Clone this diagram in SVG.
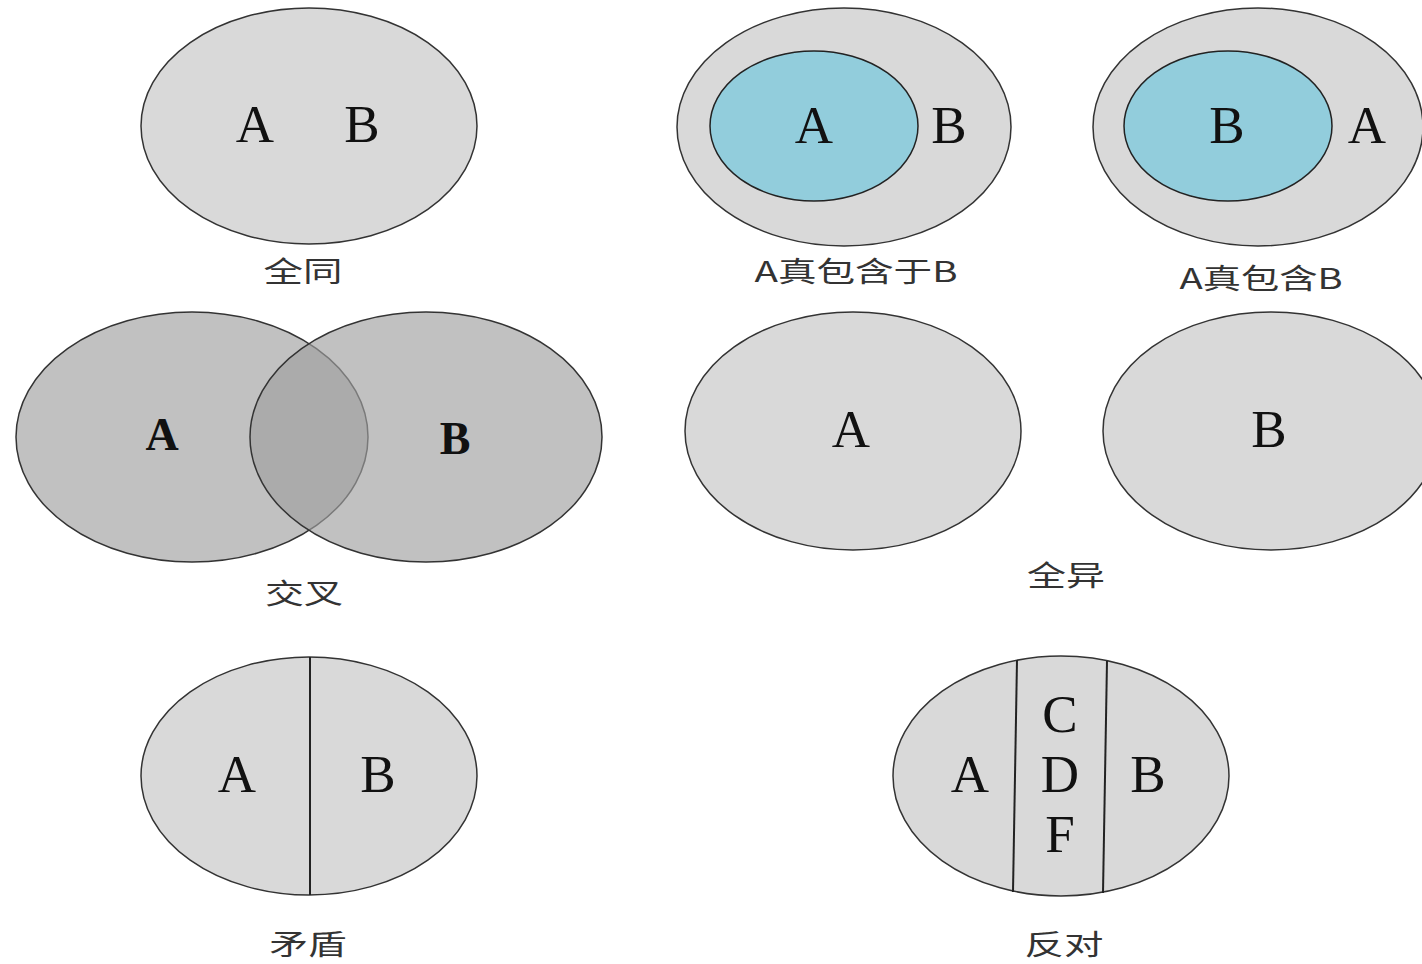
<svg xmlns="http://www.w3.org/2000/svg" width="1422" height="964" viewBox="0 0 1422 964">
<style>
.g{fill:#d9d9d9;stroke:#333;stroke-width:1.5}
.b{fill:#92cddc;stroke:#222;stroke-width:1.5}
.x{fill:#a0a0a0;fill-opacity:0.65;stroke:#333;stroke-width:1.5}
.ln{stroke:#222;stroke-width:2;fill:none}
.t{font-family:"Liberation Serif",serif;font-size:53px;fill:#111;text-anchor:middle}
.tb{font-family:"Liberation Serif",serif;font-size:46px;font-weight:bold;fill:#111;text-anchor:middle}
.c{font-family:"Noto Sans CJK SC",sans-serif;font-size:28px;fill:#333;text-anchor:middle}
</style>
<rect width="1422" height="964" fill="#fff"/>
<g id="quantong">
<ellipse class="g" cx="309" cy="126" rx="168" ry="118"/>
<text class="t" x="255" y="142">A</text>
<text class="t" x="362" y="142">B</text>
<text class="c" x="303" y="282" textLength="79" lengthAdjust="spacingAndGlyphs">全同</text>
</g>
<g id="a-in-b">
<ellipse class="g" cx="844" cy="127" rx="167" ry="119"/>
<ellipse class="b" cx="814" cy="126" rx="104" ry="75"/>
<text class="t" x="814" y="143">A</text>
<text class="t" x="949" y="143">B</text>
<text class="c" x="856" y="282" textLength="203" lengthAdjust="spacingAndGlyphs">A真包含于B</text>
</g>
<g id="a-contains-b">
<ellipse class="g" cx="1258" cy="127" rx="165" ry="119"/>
<ellipse class="b" cx="1228" cy="126" rx="104" ry="75"/>
<text class="t" x="1227" y="143">B</text>
<text class="t" x="1367" y="143">A</text>
<text class="c" x="1261" y="289" textLength="163" lengthAdjust="spacingAndGlyphs">A真包含B</text>
</g>
<g id="jiaocha">
<ellipse class="x" cx="192" cy="437" rx="176" ry="125"/>
<ellipse class="x" cx="426" cy="437" rx="176" ry="125"/>
<text class="tb" x="162" y="450">A</text>
<text class="tb" x="455" y="454">B</text>
<text class="c" x="304" y="604" textLength="78" lengthAdjust="spacingAndGlyphs">交叉</text>
</g>
<g id="quanyi">
<ellipse class="g" cx="853" cy="431" rx="168" ry="119"/>
<ellipse class="g" cx="1271" cy="431" rx="168" ry="119"/>
<text class="t" x="851" y="447">A</text>
<text class="t" x="1269" y="447">B</text>
<text class="c" x="1066" y="586" textLength="78" lengthAdjust="spacingAndGlyphs">全异</text>
</g>
<g id="maodun">
<ellipse class="g" cx="309" cy="776" rx="168" ry="119"/>
<line class="ln" x1="310" y1="657" x2="310" y2="895"/>
<text class="t" x="237" y="792">A</text>
<text class="t" x="378" y="792">B</text>
<text class="c" x="308" y="955" textLength="77" lengthAdjust="spacingAndGlyphs">矛盾</text>
</g>
<g id="fandui">
<ellipse class="g" cx="1061" cy="776" rx="168" ry="120"/>
<line class="ln" x1="1017" y1="660" x2="1013" y2="892"/>
<line class="ln" x1="1107" y1="661" x2="1103" y2="893"/>
<text class="t" x="1060" y="732">C</text>
<text class="t" x="1060" y="792">D</text>
<text class="t" x="1060" y="852">F</text>
<text class="t" x="970" y="792">A</text>
<text class="t" x="1148" y="792">B</text>
<text class="c" x="1064" y="955" textLength="79" lengthAdjust="spacingAndGlyphs">反对</text>
</g>
</svg>
